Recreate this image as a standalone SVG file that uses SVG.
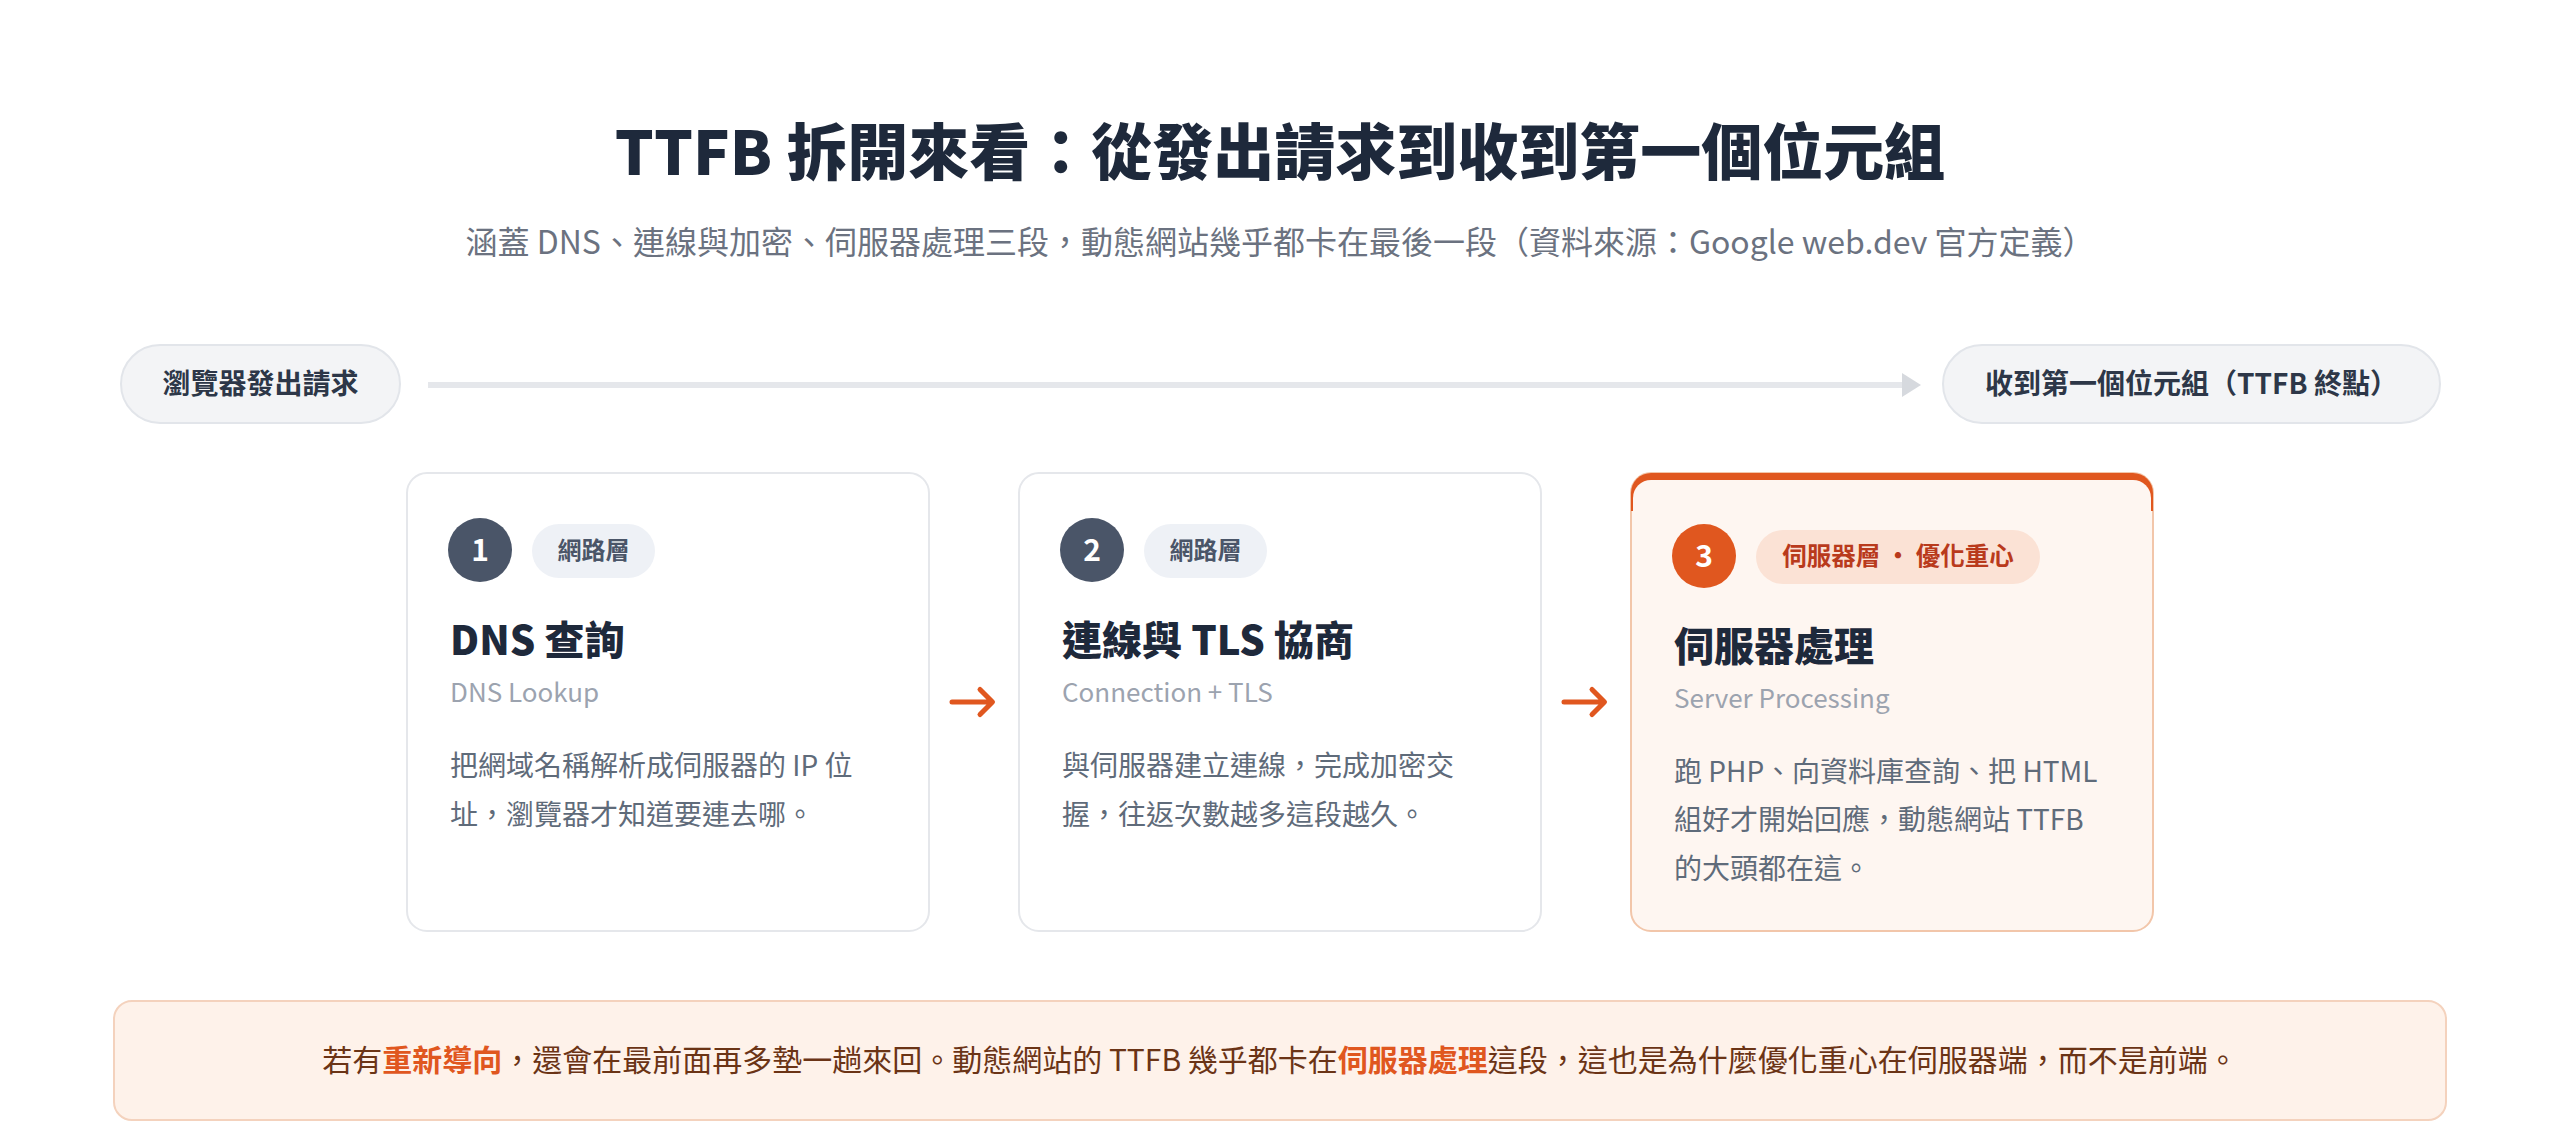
<svg xmlns="http://www.w3.org/2000/svg" width="2560" height="1146" viewBox="0 0 2560 1146">
<style>
text{font-family:"Noto Sans CJK TC","Noto Sans","Liberation Sans",sans-serif}
.title{font-size:61px;font-weight:900;fill:#1e293b}
.subtitle{font-size:32px;fill:#6b7280}
.pill{fill:#f3f4f6;stroke:#e2e5ea;stroke-width:2}
.pilltxt{font-size:28px;font-weight:700;fill:#2d3748}
.card{fill:#ffffff;stroke:#e5e7eb;stroke-width:2}
.card3{fill:#fef6f1;stroke:#f2c6aa;stroke-width:2}
.num{font-size:30px;font-weight:700;fill:#ffffff}
.tag{fill:#eef1f6}
.tagtxt{font-size:24px;font-weight:700;fill:#4a5568}
.tag3{fill:#fbe2d5}
.tag3txt{font-size:24.5px;font-weight:700;fill:#b93a1c}
.head{font-size:40px;font-weight:800;fill:#1e293b}
.sub{font-size:26px;fill:#9ca3af}
.body{font-size:28px;fill:#5f6b7a}
.flow{fill:none;stroke:#e0571f;stroke-width:5;stroke-linecap:round;stroke-linejoin:round}
.note{fill:#fef2ea;stroke:#f4d2bd;stroke-width:2}
.notetxt{font-size:30px;fill:#6b3416}
.hl{font-weight:700;fill:#e0571f}
</style>
<defs>
<mask id="topmask">
<rect x="1631" y="473" width="522" height="458" rx="20" fill="#fff"/>
<rect x="1633" y="480" width="518" height="449" rx="18" fill="#000"/>
</mask>
</defs>
<rect width="2560" height="1146" fill="#ffffff"/>

<g id="header">
<text class="title" x="1280" y="175" text-anchor="middle">TTFB 拆開來看：從發出請求到收到第一個位元組</text>
<text class="subtitle" x="1280" y="254" text-anchor="middle">涵蓋 DNS、連線與加密、伺服器處理三段，動態網站幾乎都卡在最後一段（資料來源：Google web.dev 官方定義）</text>
</g>

<g id="start">
<rect class="pill" x="121" y="345" width="279" height="78" rx="39"/>
<text class="pilltxt" x="260.5" y="394" text-anchor="middle">瀏覽器發出請求</text>
</g>
<g id="end">
<rect class="pill" x="1943" y="345" width="497" height="78" rx="39"/>
<text class="pilltxt" x="2191.5" y="394" text-anchor="middle">收到第一個位元組（TTFB 終點）</text>
</g>

<g id="connectors">
<line x1="428" y1="385" x2="1904" y2="385" stroke="#e5e7eb" stroke-width="6"/>
<polygon points="1902,373 1921,385 1902,397" fill="#d6d9de"/>
<path class="flow" d="M952 702 H992 M980 689.5 L992.5 702 L980 714.5"/>
<path class="flow" d="M1564 702 H1604 M1592 689.5 L1604.5 702 L1592 714.5"/>
</g>

<g id="card1">
<rect class="card" x="407" y="473" width="522" height="458" rx="20"/>
<circle cx="480" cy="550" r="32" fill="#4a5568"/>
<text class="num" x="480" y="561" text-anchor="middle">1</text>
<rect class="tag" x="532" y="524" width="123" height="54" rx="27"/>
<text class="tagtxt" x="593.5" y="559" text-anchor="middle">網路層</text>
<text class="head" x="450" y="655">DNS 查詢</text>
<text class="sub" x="450" y="702">DNS Lookup</text>
<text class="body" x="450" y="776">把網域名稱解析成伺服器的 IP 位</text>
<text class="body" x="450" y="825">址，瀏覽器才知道要連去哪。</text>
</g>

<g id="card2">
<rect class="card" x="1019" y="473" width="522" height="458" rx="20"/>
<circle cx="1092" cy="550" r="32" fill="#4a5568"/>
<text class="num" x="1092" y="561" text-anchor="middle">2</text>
<rect class="tag" x="1144" y="524" width="123" height="54" rx="27"/>
<text class="tagtxt" x="1205.5" y="559" text-anchor="middle">網路層</text>
<text class="head" x="1062" y="655">連線與 TLS 協商</text>
<text class="sub" x="1062" y="702">Connection + TLS</text>
<text class="body" x="1062" y="776">與伺服器建立連線，完成加密交</text>
<text class="body" x="1062" y="825">握，往返次數越多這段越久。</text>
</g>

<g id="card3">
<rect class="card3" x="1631" y="473" width="522" height="458" rx="20"/>
<rect x="1629" y="471" width="526" height="40" fill="#e0571f" mask="url(#topmask)"/>
<circle cx="1704" cy="556" r="32" fill="#e0571f"/>
<text class="num" x="1704" y="567" text-anchor="middle">3</text>
<rect class="tag3" x="1756" y="530" width="284" height="54" rx="27"/>
<text class="tag3txt" x="1898" y="565" text-anchor="middle">伺服器層 ・ 優化重心</text>
<text class="head" x="1674" y="661">伺服器處理</text>
<text class="sub" x="1674" y="708">Server Processing</text>
<text class="body" x="1674" y="782">跑 PHP、向資料庫查詢、把 HTML</text>
<text class="body" x="1674" y="830">組好才開始回應，動態網站 TTFB</text>
<text class="body" x="1674" y="879">的大頭都在這。</text>
</g>

<g id="note">
<rect class="note" x="114" y="1001" width="2332" height="119" rx="18"/>
<text class="notetxt" x="1280" y="1071" text-anchor="middle">若有<tspan class="hl">重新導向</tspan>，還會在最前面再多墊一趟來回。動態網站的 TTFB 幾乎都卡在<tspan class="hl">伺服器處理</tspan>這段，這也是為什麼優化重心在伺服器端，而不是前端。</text>
</g>
</svg>
